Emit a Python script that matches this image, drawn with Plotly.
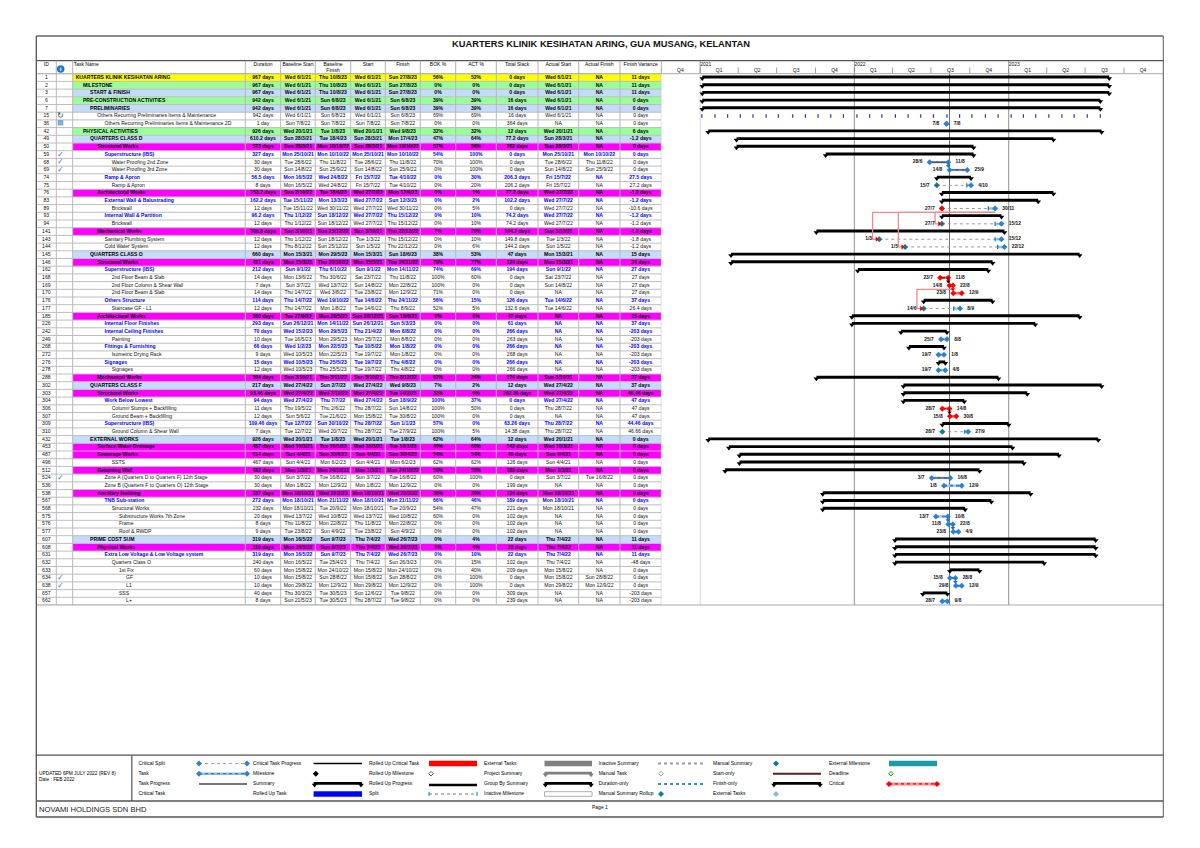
import datetime as dt
import plotly.graph_objects as go

W, H = 1200, 848
TITLE = "KUARTERS KLINIK KESIHATAN ARING, GUA MUSANG, KELANTAN"
headers = ["ID", "", "Task Name", "Duration", "Baseline Start", "Baseline<br>Finish", "Start", "Finish",
           "BOK %", "ACT %", "Total Slack", "Actual Start", "Actual Finish", "Finish Variance"]

ids = [1,2,3,6,7,15,36,42,49,50,59,68,69,74,75,76,83,89,93,94,141,143,144,145,146,162,168,169,170,176,177,185,226,242,249,268,272,276,278,288,302,303,304,306,307,309,310,432,453,487,496,512,524,536,538,567,568,575,576,577,607,608,631,632,633,634,638,657,662]
levels = [0,1,2,1,2,3,4,1,2,3,4,5,5,4,5,3,4,5,4,5,3,4,4,2,3,4,5,5,5,4,5,3,4,4,5,4,5,4,5,3,2,3,4,5,5,4,5,2,3,3,5,3,4,4,3,4,5,6,6,6,2,3,4,5,6,7,7,6,7]
names = ["KUARTERS KLINIK KESIHATAN ARING","MILESTONE","START & FINISH","PRE-CONSTRUCTION ACTIVITIES","PRELIMINARIES",
 "Others Recurring Preliminaries Items & Maintenance","Others Recurring Preliminaries Items & Maintenance 2D","PHYSICAL ACTIVITIES","QUARTERS CLASS D","Structural Works",
 "Superstructure (IBS)","Water Proofing 2nd Zone","Water Proofing 3rd Zone","Ramp & Apron","Ramp & Apron","Architectural Works","External Wall & Balustrading","Brickwall","Internal Wall & Partition","Brickwall",
 "Mechanical Works","Sanitary Plumbing System","Cold Water System","QUARTERS CLASS O","Structural Works","Superstructure (IBS)","2nd Floor Beam & Slab","2nd Floor Column & Shear Wall","2nd Floor Beam & Slab","Others Structure",
 "Staircase GF - L1","Architectural Works","Internal Floor Finishes","Internal Ceiling Finishes","Painting","Fittings & Furnishing","Isometric Drying Rack","Signages","Signages","Mechanical Works",
 "QUARTERS CLASS F","Structural Works","Work Below Lowest","Column Stumps + Backfilling","Ground Beam + Backfilling","Superstructure (IBS)","Ground Column & Shear Wall","EXTERNAL WORKS","Surface Water Drainage","Sewerage Works",
 "SSTS","Retaining Wall","Zone A (Quarters D to Quarters F) 12th Stage","Zone B (Quarters F to Quarters O) 12th Stage","Ancillary Building","TNB Sub-station","Structural Works","Substructure Works 7th Zone","Frame","Roof & RWDP",
 "PRIME COST SUM","Physical Works","Extra Low Voltage & Low Voltage system","Quarters Class O","1st Fix","GF","L1","SSS","L+"]
durations = ["967 days","967 days","967 days","942 days","942 days","942 days","1 day","926 days","610.2 days","573 days",
 "327 days","30 days","30 days","56.5 days","8 days","153.2 days","162.2 days","12 days","96.2 days","12 days",
 "306.8 days","12 days","12 days","660 days","421 days","212 days","14 days","7 days","14 days","114 days",
 "12 days","360 days","293 days","70 days","10 days","66 days","9 days","15 days","12 days","394 days",
 "217 days","93.46 days","94 days","11 days","12 days","109.46 days","7 days","926 days","467 days","614 days",
 "467 days","482 days","30 days","30 days","337 days","272 days","232 days","20 days","8 days","9 days",
 "319 days","319 days","319 days","240 days","60 days","10 days","10 days","40 days","8 days"]
baseline_start = ["Wed 6/1/21","Wed 6/1/21","Wed 6/1/21","Wed 6/1/21","Wed 6/1/21","Wed 6/1/21","Sun 7/8/22","Wed 20/1/21","Sun 28/3/21","Sun 28/3/21",
 "Mon 25/10/21","Tue 28/6/22","Sun 14/8/22","Mon 16/5/22","Mon 16/5/22","Sun 2/10/22","Tue 15/11/22","Tue 15/11/22","Thu 1/12/22","Thu 1/12/22",
 "Sun 3/10/21","Thu 1/12/22","Thu 8/12/22","Mon 15/3/21","Mon 15/3/21","Sun 9/1/22","Mon 13/6/22","Sun 3/7/22","Thu 14/7/22","Thu 14/7/22",
 "Thu 14/7/22","Tue 27/9/22","Sun 26/12/21","Wed 15/2/23","Tue 16/5/23","Wed 1/2/23","Wed 10/5/23","Wed 10/5/23","Wed 10/5/23","Sun 3/10/21",
 "Wed 27/4/22","Wed 27/4/22","Wed 27/4/22","Thu 19/5/22","Sun 5/6/22","Tue 12/7/22","Tue 12/7/22","Wed 20/1/21","Wed 10/3/21","Sun 4/4/21",
 "Sun 4/4/21","Mon 1/3/21","Sun 3/7/22","Mon 1/8/22","Mon 18/10/21","Mon 18/10/21","Mon 18/10/21","Wed 13/7/22","Thu 11/8/22","Tue 23/8/22",
 "Mon 16/5/22","Mon 16/5/22","Mon 16/5/22","Mon 16/5/22","Mon 15/8/22","Mon 15/8/22","Mon 29/8/22","Thu 30/3/23","Sun 21/5/23"]
baseline_finish = ["Thu 10/8/23","Thu 10/8/23","Thu 10/8/23","Sun 6/8/23","Sun 6/8/23","Sun 6/8/23","Sun 7/8/22","Tue 1/8/23","Tue 18/4/23","Mon 10/10/22",
 "Mon 10/10/22","Thu 11/8/22","Sun 25/9/22","Wed 24/8/22","Wed 24/8/22","Tue 18/4/23","Mon 13/3/23","Wed 30/11/22","Sun 18/12/22","Sun 18/12/22",
 "Sun 25/12/22","Sun 18/12/22","Sun 25/12/22","Mon 29/5/23","Thu 20/10/22","Thu 6/10/22","Thu 30/6/22","Wed 13/7/22","Wed 3/8/22","Wed 19/10/22",
 "Mon 1/8/22","Mon 29/5/23","Mon 14/11/22","Mon 29/5/23","Mon 29/5/23","Mon 22/5/23","Mon 22/5/23","Thu 25/5/23","Thu 25/5/23","Thu 3/11/22",
 "Sun 2/7/23","Wed 7/12/22","Thu 7/7/22","Thu 2/6/22","Tue 21/6/22","Sun 30/10/22","Wed 20/7/22","Tue 1/8/23","Tue 10/1/23","Sun 30/4/23",
 "Mon 6/2/23","Mon 24/10/22","Tue 16/8/22","Mon 12/9/22","Wed 22/2/23","Mon 21/11/22","Tue 20/9/22","Wed 10/8/22","Mon 22/8/22","Sun 4/9/22",
 "Sun 9/7/23","Sun 9/7/23","Sun 9/7/23","Tue 25/4/23","Mon 24/10/22","Sun 28/8/22","Mon 12/9/22","Tue 30/5/23","Tue 30/5/23"]
starts = ["Wed 6/1/21","Wed 6/1/21","Wed 6/1/21","Wed 6/1/21","Wed 6/1/21","Wed 6/1/21","Sun 7/8/22","Wed 20/1/21","Sun 28/3/21","Sun 28/3/21",
 "Mon 25/10/21","Tue 28/6/22","Sun 14/8/22","Fri 15/7/22","Fri 15/7/22","Wed 27/7/22","Wed 27/7/22","Wed 27/7/22","Wed 27/7/22","Wed 27/7/22",
 "Sun 3/10/21","Tue 1/3/22","Sun 1/5/22","Mon 15/3/21","Mon 15/3/21","Sun 9/1/22","Sat 23/7/22","Sun 14/8/22","Tue 23/8/22","Tue 14/6/22",
 "Tue 14/6/22","Sun 26/12/21","Sun 26/12/21","Thu 21/4/22","Mon 25/7/22","Tue 10/5/22","Tue 19/7/22","Tue 19/7/22","Tue 19/7/22","Sun 3/10/21",
 "Wed 27/4/22","Wed 27/4/22","Wed 27/4/22","Thu 28/7/22","Mon 15/8/22","Thu 28/7/22","Thu 28/7/22","Wed 20/1/21","Wed 10/3/21","Sun 4/4/21",
 "Sun 4/4/21","Mon 1/3/21","Sun 3/7/22","Mon 1/8/22","Mon 18/10/21","Mon 18/10/21","Mon 18/10/21","Wed 13/7/22","Thu 11/8/22","Tue 23/8/22",
 "Thu 7/4/22","Thu 7/4/22","Thu 7/4/22","Thu 7/4/22","Mon 15/8/22","Mon 15/8/22","Mon 29/8/22","Sun 12/6/22","Thu 28/7/22"]
finishes = ["Sun 27/8/23","Sun 27/8/23","Sun 27/8/23","Sun 6/8/23","Sun 6/8/23","Sun 6/8/23","Sun 7/8/22","Wed 9/8/23","Mon 17/4/23","Mon 10/10/22",
 "Mon 10/10/22","Thu 11/8/22","Sun 25/9/22","Tue 4/10/22","Tue 4/10/22","Mon 17/4/23","Sun 12/3/23","Wed 30/11/22","Thu 15/12/22","Thu 15/12/22",
 "Thu 22/12/22","Thu 15/12/22","Thu 22/12/22","Sun 18/6/23","Thu 24/11/22","Mon 14/11/22","Thu 11/8/22","Mon 22/8/22","Mon 12/9/22","Thu 24/11/22",
 "Thu 8/9/22","Sun 18/6/23","Sun 5/3/23","Mon 8/8/22","Mon 8/8/22","Mon 1/8/22","Mon 1/8/22","Thu 4/8/22","Thu 4/8/22","Thu 8/12/22",
 "Wed 9/8/23","Tue 14/2/23","Sun 18/9/22","Sun 14/8/22","Tue 30/8/22","Sun 1/1/23","Tue 27/9/22","Tue 1/8/23","Tue 10/1/23","Sun 30/4/23",
 "Mon 6/2/23","Mon 24/10/22","Tue 16/8/22","Mon 12/9/22","Wed 22/2/23","Mon 21/11/22","Tue 20/9/22","Wed 10/8/22","Mon 22/8/22","Sun 4/9/22",
 "Wed 26/7/23","Wed 26/7/23","Wed 26/7/23","Sun 26/3/23","Mon 24/10/22","Sun 28/8/22","Mon 12/9/22","Tue 9/8/22","Tue 9/8/22"]
bok = ["56%","0%","0%","39%","39%","69%","0%","32%","47%","57%","54%","70%","0%","0%","0%","0%","0%","0%","0%","0%",
 "7%","0%","0%","38%","79%","74%","100%","100%","71%","56%","52%","0%","0%","0%","0%","0%","0%","0%","0%","62%",
 "7%","32%","100%","100%","100%","57%","100%","62%","40%","54%","62%","50%","60%","0%","36%","66%","54%","60%","0%","0%",
 "0%","0%","0%","0%","0%","0%","0%","0%","0%"]
act = ["52%","0%","0%","39%","39%","69%","0%","32%","64%","56%","100%","100%","100%","30%","20%","1%","2%","5%","10%","10%",
 "20%","10%","6%","53%","77%","69%","60%","0%","0%","15%","5%","0%","0%","0%","0%","0%","0%","0%","0%","24%",
 "2%","9%","37%","50%","0%","0%","5%","64%","60%","54%","62%","55%","100%","0%","30%","46%","47%","0%","0%","0%",
 "4%","4%","10%","15%","40%","100%","100%","0%","0%"]
total_slack = ["0 days","0 days","0 days","16 days","16 days","16 days","364 days","12 days","77.2 days","202 days",
 "0 days","0 days","0 days","206.3 days","206.2 days","77.2 days","102.2 days","0 days","74.2 days","74.2 days",
 "144.2 days","149.8 days","144.2 days","47 days","124 days","194 days","0 days","0 days","0 days","126 days",
 "132.6 days","47 days","61 days","266 days","263 days","266 days","268 days","266 days","266 days","174 days",
 "12 days","162.26 days","0 days","0 days","0 days","63.26 days","14.38 days","12 days","142 days","49 days",
 "126 days","189 days","0 days","199 days","124 days","189 days","221 days","102 days","102 days","102 days",
 "22 days","22 days","22 days","102 days","209 days","0 days","0 days","309 days","239 days"]
actual_start = ["Wed 6/1/21","Wed 6/1/21","Wed 6/1/21","Wed 6/1/21","Wed 6/1/21","Wed 6/1/21","NA","Wed 20/1/21","Sun 28/3/21","Sun 28/3/21",
 "Mon 25/10/21","Tue 28/6/22","Sun 14/8/22","Fri 15/7/22","Fri 15/7/22","Wed 27/7/22","Wed 27/7/22","Wed 27/7/22","Wed 27/7/22","Wed 27/7/22",
 "Sun 3/10/21","Tue 1/3/22","Sun 1/5/22","Mon 15/3/21","Mon 15/3/21","Sun 9/1/22","Sat 23/7/22","Sun 14/8/22","NA","Tue 14/6/22",
 "Tue 14/6/22","NA","NA","NA","NA","NA","NA","NA","NA","Sun 3/10/21",
 "Wed 27/4/22","Wed 27/4/22","Wed 27/4/22","Thu 28/7/22","NA","Thu 28/7/22","Thu 28/7/22","Wed 20/1/21","Wed 10/3/21","Sun 4/4/21",
 "Sun 4/4/21","Mon 1/3/21","Sun 3/7/22","NA","Mon 18/10/21","Mon 18/10/21","Mon 18/10/21","NA","NA","NA",
 "Thu 7/4/22","Thu 7/4/22","Thu 7/4/22","Thu 7/4/22","Mon 15/8/22","Mon 15/8/22","Mon 29/8/22","NA","NA"]
actual_finish = ["NA"]*10 + ["Mon 10/10/22","Thu 11/8/22","Sun 25/9/22"] + ["NA"]*39 + ["Tue 16/8/22"] + ["NA"]*12 + ["Sun 28/8/22","Mon 12/9/22"] + ["NA"]*2
finish_variance = ["11 days","11 days","11 days","0 days","0 days","0 days","0 days","6 days","-1.2 days","0 days",
 "0 days","0 days","0 days","27.5 days","27.2 days","-1.2 days","-1.2 days","-10.6 days","-1.2 days","-1.2 days",
 "-1.2 days","-1.8 days","-1.2 days","15 days","24 days","27 days","27 days","27 days","27 days","37 days",
 "26.4 days","15 days","37 days","-203 days","-203 days","-203 days","-203 days","-203 days","-203 days","27 days",
 "37 days","46.46 days","47 days","47 days","47 days","44.46 days","46.66 days","0 days","0 days","0 days",
 "0 days","0 days","0 days","0 days","0 days","0 days","0 days","0 days","0 days","0 days",
 "11 days","11 days","11 days","-48 days","0 days","0 days","0 days","-203 days","-203 days"]

yellow_rows = [1]
green_rows = [2, 6, 42]
pale_blue_rows = [3, 7, 49, 145, 302, 432, 607]
magenta_rows = [50, 76, 141, 146, 185, 288, 303, 453, 487, 512, 538, 608]
blue_text_rows = [59, 74, 83, 93, 162, 176, 226, 242, 268, 276, 304, 309, 567, 631]
checked_rows = [59, 68, 69, 524, 634, 638]

task_rows = [36, 68, 69, 249, 272, 278, 524, 536, 575, 576, 577, 634, 638, 662]
critical_rows = [168, 169, 170, 306, 307]
split_resume = {75: "2022-09-24", 89: "2022-11-14", 94: "2022-11-30", 143: "2022-11-30",
                144: "2022-12-06", 177: "2022-08-24", 310: "2022-09-19"}
recurring_row = 15
recurring_dates = ["2021-01-05","2021-02-05","2021-03-07","2021-04-06","2021-05-06","2021-06-06","2021-07-05","2021-08-08",
 "2021-09-07","2021-10-07","2021-11-06","2021-12-06","2022-01-07","2022-02-06","2022-03-07","2022-04-08","2022-05-08",
 "2022-06-07","2022-07-07","2022-08-08","2022-09-07","2022-10-06","2022-11-07","2022-12-07","2023-01-07","2023-02-05",
 "2023-03-06","2023-04-06","2023-05-07","2023-06-05","2023-07-06","2023-08-06"]
long_links = [(89, 94), (89, 143), (89, 144), (169, 177)]
short_links = [(68, 69, "#1F6FC8"), (168, 169, "#111111"), (169, 170, "#FF0000"), (306, 307, "#111111"),
               (575, 576, "#1F6FC8"), (576, 577, "#1F6FC8"), (634, 638, "#1F6FC8")]
status_date = "2022-08-14"
year_starts = ["2021-01-01", "2022-01-01", "2023-01-01"]
quarter_starts = ["2020-10-01","2021-01-01","2021-04-01","2021-07-01","2021-10-01","2022-01-01","2022-04-01","2022-07-01",
 "2022-10-01","2023-01-01","2023-04-01","2023-07-01","2023-10-01"]
quarter_mids = ["2020-11-15","2021-02-15","2021-05-16","2021-08-16","2021-11-15","2022-02-15","2022-05-16","2022-08-16",
 "2022-11-15","2023-02-15","2023-05-16","2023-08-16","2023-11-15"]
quarter_names = ["Q4","Q1","Q2","Q3","Q4","Q1","Q2","Q3","Q4","Q1","Q2","Q3","Q4"]

FONT = "Liberation Sans"
TS = 5.1
TEAL, BLUE, RED = "#0E7C8E", "#2F80D0", "#FF0000"


def iso(s):
    d, m, y = s.split()[1].split("/")
    return f"20{y}-{int(m):02d}-{int(d):02d}"


def dm(s):
    return "/".join(s.split()[1].split("/")[:2])


def shift(date, days):
    return (dt.date.fromisoformat(date) + dt.timedelta(days=days)).isoformat()


N = len(ids)
row_of = {k: i for i, k in enumerate(ids)}
s_iso = [iso(s) for s in starts]
f_iso = [iso(s) for s in finishes]

col_edges = [36.3, 56.3, 72.7, 245.3, 280.7, 315.3, 350.7, 385.3, 420.3, 455.7, 496.3, 538.0, 578.7, 620.0, 661.3]
TOP, BOT = 73.7, 605.0
G_L, G_R = 661.3, 1163.3

fig = go.Figure()
shapes = []


def T(x, y, text, size=TS, color="#000", bold=False, pos="middle center", axes=("x2", "y")):
    fig.add_trace(go.Scatter(x=x, y=y, text=text, mode="text", textposition=pos, cliponaxis=False,
                             textfont=dict(family=FONT, size=size, color=color, weight="bold" if bold else "normal"),
                             hoverinfo="skip", xaxis=axes[0], yaxis=axes[1], showlegend=False))


# ---- table fills and grid
fills = [(yellow_rows, "#FFFF00"), (green_rows, "#99FF99"), (pale_blue_rows, "#C4DCFA"), (magenta_rows, "#FF00FF")]
for rows, col in fills:
    for k in rows:
        i = row_of[k]
        shapes.append(dict(type="rect", xref="x2", yref="y", x0=col_edges[2], x1=col_edges[-1], y0=i - .5, y1=i + .5,
                           fillcolor=col, line_width=0, layer="below"))
grid = " ".join(f"M{col_edges[0]},{i - .5} L{col_edges[-1]},{i - .5}" for i in range(N + 1))
shapes.append(dict(type="path", xref="x2", yref="y", path=grid, line=dict(color="#BEBEBE", width=1), layer="below"))
vgrid = " ".join(f"M{x},-0.5 L{x},{N - .5}" for x in col_edges)
shapes.append(dict(type="path", xref="x2", yref="y", path=vgrid, line=dict(color="#B8B8B8", width=1), layer="below"))

# ---- table text
centers = [(col_edges[i] + col_edges[i + 1]) / 2 for i in range(len(col_edges) - 1)]
columns = {3: durations, 4: baseline_start, 5: baseline_finish, 6: starts, 7: finishes, 8: bok, 9: act,
           10: total_slack, 11: actual_start, 12: actual_finish, 13: finish_variance}
bold_rows = set(yellow_rows + green_rows + pale_blue_rows + magenta_rows + blue_text_rows)
groups = [("#000000", True, [k for k in ids if k in bold_rows and k not in blue_text_rows]),
          ("#0000FF", True, blue_text_rows),
          ("#111111", False, [k for k in ids if k not in bold_rows])]
T([centers[0]] * N, list(range(N)), [str(k) for k in ids], color="#111")
for color, bold, rows in groups:
    rr = [row_of[k] for k in rows]
    T([75.7 + 7.2 * levels[i] for i in rr], rr, [names[i] for i in rr], color=color, bold=bold, pos="middle right")
    for c, vals in columns.items():
        T([centers[c]] * len(rr), rr, [vals[i] for i in rr], color=color, bold=bold)
rr = [row_of[k] for k in checked_rows]
T([60.5] * len(rr), rr, ["✓"] * len(rr), size=8, color="#2C77C8")
T([60.5], [row_of[15]], ["↻"], size=8, color="#444444")
T([60.5], [row_of[36]], ["▤"], size=7, color="#2C77C8")

# ---- gantt: summary bars
simple = set(task_rows + critical_rows + list(split_resume) + [recurring_row])
sum_rows = [i for i, k in enumerate(ids) if k not in simple]
xs, ys, mx, my = [], [], [], []
for i in sum_rows:
    xs += [s_iso[i], f_iso[i], None]
    ys += [i - .07, i - .07, None]
    mx += [s_iso[i], f_iso[i]]
    my += [i + .12, i + .12]
fig.add_trace(go.Scatter(x=xs, y=ys, mode="lines", line=dict(color="#000", width=2.9), hoverinfo="skip", showlegend=False))
fig.add_trace(go.Scatter(x=mx, y=my, mode="markers", marker=dict(symbol="triangle-down", size=5, color="#000"),
                         hoverinfo="skip", showlegend=False))


def seg(rows, color, width, dash="solid"):
    xs, ys = [], []
    for i, (a, b) in rows:
        xs += [a, b, None]
        ys += [i, i, None]
    fig.add_trace(go.Scatter(x=xs, y=ys, mode="lines", line=dict(color=color, width=width, dash=dash),
                             hoverinfo="skip", showlegend=False))


def marks(x, y, color, symbol="diamond", size=4.6):
    fig.add_trace(go.Scatter(x=x, y=y, mode="markers", marker=dict(symbol=symbol, size=size, color=color,
                             line=dict(color=color, width=1.2 if "line" in symbol else 0)),
                             hoverinfo="skip", showlegend=False))


def progress_end(i):
    a, b = dt.date.fromisoformat(s_iso[i]), dt.date.fromisoformat(f_iso[i])
    p = int(act[i].rstrip("%")) / 100
    return (a + dt.timedelta(days=round((b - a).days * p))).isoformat()


# blue tasks
tr = [row_of[k] for k in task_rows]
seg([(i, (s_iso[i], f_iso[i])) for i in tr], "#A6CBF1", 2.6)
seg([(i, (s_iso[i], f_iso[i])) for i in tr], "#2F78C8", 1.6, "dot")
seg([(i, (s_iso[i], progress_end(i))) for i in tr if int(act[i][:-1]) > 0], "#555555", 1.3)
marks([s_iso[i] for i in tr] + [f_iso[i] for i in tr], tr + tr, BLUE)
# critical tasks
cr = [row_of[k] for k in critical_rows]
seg([(i, (s_iso[i], f_iso[i])) for i in cr], "#FF6060", 2.6)
seg([(i, (s_iso[i], progress_end(i))) for i in cr if int(act[i][:-1]) > 0], "#222222", 1.1)
marks([s_iso[i] for i in cr] + [f_iso[i] for i in cr], cr + cr, RED)
# split tasks
sp = [(row_of[k], d) for k, d in split_resume.items()]
seg([(i, (s_iso[i], d)) for i, d in sp], "#9A9A9A", 1, "dot")
seg([(i, (d, f_iso[i])) for i, d in sp], "#8FC0EC", 2.4)
marks([d for _, d in sp], [i for i, _ in sp], TEAL, "line-ns", 3)
marks([s_iso[i] for i, _ in sp], [i for i, _ in sp], TEAL)
marks([f_iso[i] for i, _ in sp], [i for i, _ in sp], BLUE)
marks([s_iso[row_of[89]]], [row_of[89]], RED)
# recurring ticks
marks(recurring_dates, [row_of[recurring_row]] * len(recurring_dates), "#1F2FD0", "line-ns", 2.6)

# links
for a, b in long_links:
    ia, ib = row_of[a], row_of[b]
    vx = shift(s_iso[ib], -16)
    fig.add_trace(go.Scatter(x=[f_iso[ia], vx, vx, shift(s_iso[ib], -5)], y=[ia + .5, ia + .5, ib, ib], mode="lines",
                             line=dict(color="#F28A8A", width=1.3), hoverinfo="skip", showlegend=False))
    marks([shift(s_iso[ib], -6)], [ib], RED, "triangle-right", 4.5)
for a, b, col in short_links:
    ia, ib = row_of[a], row_of[b]
    fig.add_trace(go.Scatter(x=[f_iso[ia], f_iso[ia]], y=[ia, ia + .55], mode="lines", line=dict(color=col, width=1),
                             hoverinfo="skip", showlegend=False))
    marks([f_iso[ia]], [ia + .5], col, "triangle-down", 4)

# date labels
lab = tr + cr + [i for i, _ in sp]
for x, txt, pos in [([s_iso[i] for i in lab], [dm(starts[i]) for i in lab], "middle left"),
                    ([f_iso[i] for i in lab], [dm(finishes[i]) for i in lab], "middle right")]:
    fig.add_trace(go.Scatter(x=x, y=lab, text=txt, mode="markers+text", textposition=pos, cliponaxis=False,
                             marker=dict(size=10, opacity=0), textfont=dict(family=FONT, size=4.9, color="#111", weight="bold"),
                             hoverinfo="skip", showlegend=False))

# ---- gantt rules
for d in quarter_starts:
    shapes.append(dict(type="line", xref="x", yref="y3", x0=d, x1=d, y0=TOP, y1=67.5, line=dict(color="#888", width=.8)))
for d, c, w in [(year_starts[0], "#D8D8D8", 1), (year_starts[1], "#A8A8A8", 1.3), (year_starts[2], "#A8A8A8", 1.3), (status_date, "#707070", 1)]:
    shapes.append(dict(type="line", xref="x", yref="y", x0=d, x1=d, y0=-.5, y1=N - .5, line=dict(color=c, width=w), layer="below"))
for d in year_starts:
    shapes.append(dict(type="line", xref="x", yref="y3", x0=d, x1=d, y0=60.7, y1=TOP, line=dict(color="#888", width=.8)))
    fig.add_trace(go.Scatter(x=[d], y=[65], text=[d[:4]], mode="text", textposition="middle right", cliponaxis=False,
                             textfont=dict(family=FONT, size=5, color="#111"), hoverinfo="skip", yaxis="y3", showlegend=False))

# ---- page furniture in page pixels
P = ("x3", "y3")


def pline(x0, y0, x1, y1, color="#555", width=1):
    shapes.append(dict(type="line", xref="x3", yref="y3", x0=x0, y0=y0, x1=x1, y1=y1, line=dict(color=color, width=width)))


L, R = 36.3, G_R
for y, c, w in [(36, "#666", 1.5), (60.7, "#555", 1.3), (TOP, "#AAA", 1), (BOT, "#AAA", 1), (755.2, "#555", 1.3), (801, "#555", 1.3), (817, "#555", 1.3)]:
    pline(L, y, R, y, c, w)
pline(L, 36, L, 817, "#555", 1.3)
pline(R, 36, R, 817, "#666", 1.1)
pline(131.8, 755.2, 131.8, 801, "#555", 1.2)
for x in col_edges[1:]:
    pline(x, 60.7, x, TOP, "#B0B0B0", 1)
T([601], [44.5], [TITLE], size=9.3, color="#111", bold=True, axes=P)
for i, h in enumerate(headers):
    if i == 2:
        T([col_edges[2] + 1], [65], [h], size=5, pos="middle right", axes=P)
    elif h:
        y = 67.5 if "<br>" in h else 65
        T([centers[i]], [y], [h], size=5, axes=P)
fig.add_trace(go.Scatter(x=[60.7], y=[69], mode="markers+text", text=["<b>i</b>"], textfont=dict(family=FONT, size=6, color="#fff"),
                         textposition="middle center", marker=dict(size=7.5, color="#1F77C8"), hoverinfo="skip",
                         xaxis="x3", yaxis="y3", showlegend=False))

# ---- legend
rows_y = [763.5, 773.7, 783.9, 794.0]
legend_cols = [
    (138.4, ["Critical Split", "Task", "Task Progress", "Critical Task"]),
    (253, ["Critical Task Progress", "Milestone", "Summary", "Rolled Up Task"]),
    (369, ["Rolled Up Critical Task", "Rolled Up Milestone", "Rolled Up Progress", "Split"]),
    (484, ["External Tasks", "Project Summary", "Group By Summary", "Inactive Milestone"]),
    (598.7, ["Inactive Summary", "Manual Task", "Duration-only", "Manual Summary Rollup"]),
    (713, ["Manual Summary", "Start-only", "Finish-only", "External Tasks"]),
    (829, ["External Milestone", "Deadline", "Critical", ""]),
]
for lx, labels in legend_cols:
    T([lx] * 4, rows_y, labels, size=5, pos="middle right", axes=P)


def gl(x0, x1, y, color, width, dash="solid"):
    fig.add_trace(go.Scatter(x=[x0, x1], y=[y, y], mode="lines", line=dict(color=color, width=width, dash=dash),
                             hoverinfo="skip", xaxis="x3", yaxis="y3", showlegend=False))


def gm(x, y, color, symbol="diamond", size=4.6, open_=False):
    fig.add_trace(go.Scatter(x=x, y=y, mode="markers", hoverinfo="skip", xaxis="x3", yaxis="y3", showlegend=False,
                             marker=dict(symbol=symbol + ("-open" if open_ else ""), size=size, color=color,
                                         line=dict(color=color, width=1 if open_ or "line" in symbol else 0))))


def capped(x0, x1, y, color):
    gl(x0, x1, y - .5, color, 2.7)
    gm([x0 + 1, x1 - 1], [y + 1.1, y + 1.1], color, "triangle-down", 5)


a0, a1 = 199, 247
gl(a0, a1, rows_y[0], "#F08080", 1.2, "dot"); gm([a0, a1], [rows_y[0]] * 2, BLUE)
gl(a0, a1, rows_y[1], "#8FC0EC", 2.4); gl(a0, a1, rows_y[1], "#2F78C8", 1.2, "dot"); gm([a0, a1], [rows_y[1]] * 2, BLUE)
gl(a0, a1, rows_y[2], "#777777", 2)
b0, b1 = 313.6, 362
gl(b0, b1, rows_y[0], "#000", 1.3)
gm([315.8], [rows_y[1]], "#000")
capped(b0, b1, rows_y[2], "#000")
gl(b0, b1, rows_y[3], "#0000FF", 5.5)
c0, c1 = 429, 477
gl(c0, c1, rows_y[0], "#FF0000", 5.5)
gm([431], [rows_y[1]], "#555", open_=True, size=3.5)
gl(c0, c1, rows_y[2] + 1, "#000", 2.5)
gl(c0, c1, rows_y[3], "#777", 1, "dot"); gm([c0, c1], [rows_y[3]] * 2, TEAL, "line-ns", 3)
d0, d1 = 544.5, 592
gl(d0, d1, rows_y[0], "#808080", 5.5)
capped(d0, d1, rows_y[1], "#808080")
capped(d0, d1, rows_y[2], "#000")
shapes.append(dict(type="rect", xref="x3", yref="y3", x0=d0, x1=d1, y0=rows_y[3] - 2.3, y1=rows_y[3] + 2.3,
                   line=dict(color="#999", width=.8), fillcolor="#fff"))
e0, e1 = 658, 706
gl(e0, e1, rows_y[0], "#999", 2, "dot")
gm([661], [rows_y[1]], "#999", open_=True, size=3.5)
gl(e0, e1, rows_y[2], "#2A9AA5", 2, "dot")
gm([661], [rows_y[3]], TEAL)
f0, f1 = 773, 821
gm([776], [rows_y[0]], TEAL)
gl(f0, f1, rows_y[1], "#5A2020", 2)
capped(f0, f1, rows_y[2], "#000")
gm([776], [rows_y[3]], "#8FB4E8")
g0, g1 = 889, 937
gl(g0, g1, rows_y[0], "#1C9AA5", 5.5)
gm([891], [rows_y[1]], "#1E9A1E", open_=True, size=3.5)
gl(g0, g1, rows_y[2], "#FF9090", 3); gl(g0, g1, rows_y[2], "#FF0000", 1.2, "dot"); gm([g0, g1], [rows_y[2]] * 2, RED)

T([39, 39], [774, 780], ["UPDATED 6PM JULY 2022 (REV 8)", "Date : FEB 2022"], size=4.8, pos="middle right", axes=P)
T([39], [809.7], ["NOVAMI HOLDINGS SDN BHD"], size=7.6, color="#222", pos="middle right", axes=P)
T([592], [808], ["Page 1"], size=5, pos="middle right", axes=P)

hidden = dict(showgrid=False, zeroline=False, showticklabels=False, ticks="", showline=False, fixedrange=True)
fig.update_layout(
    width=W, height=H, autosize=False, margin=dict(l=0, r=0, t=0, b=0), paper_bgcolor="#fff", plot_bgcolor="rgba(0,0,0,0)",
    showlegend=False, shapes=shapes, hovermode=False,
    xaxis=dict(type="date", domain=[G_L / W, G_R / W], range=["2020-10-01", "2024-01-02"], anchor="y", side="top",
               tickmode="array", tickvals=quarter_mids, ticktext=quarter_names, tickangle=0, ticks="",
               tickfont=dict(family=FONT, size=5, color="#111"), showgrid=False, zeroline=False, showline=False, fixedrange=True),
    xaxis2=dict(domain=[col_edges[0] / W, G_L / W], range=[col_edges[0], G_L], anchor="y", **hidden),
    yaxis=dict(domain=[1 - BOT / H, 1 - TOP / H], range=[N - .5, -.5], anchor="x", **hidden),
    xaxis3=dict(domain=[0, 1], range=[0, W], anchor="y3", **hidden),
    yaxis3=dict(domain=[0, 1], range=[H, 0], anchor="x3", **hidden),
)
fig.write_html("out.html", config={"displayModeBar": False}, post_script="document.body.style.margin='0';")
